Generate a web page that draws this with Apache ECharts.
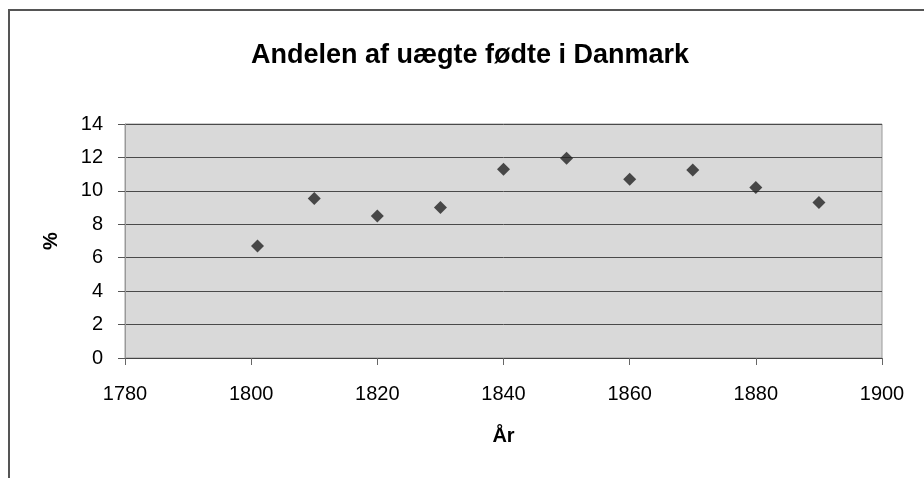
<!DOCTYPE html>
<html>
<head>
<meta charset="utf-8">
<script src="https://cdn.jsdelivr.net/npm/echarts@6/dist/echarts.min.js"></script>
<style>
  html, body { margin: 0; padding: 0; background: #fff; }
  #chart { width: 924px; height: 478px; }
</style>
</head>
<body>
<div id="chart"></div>
<script>
// census years and share of births out of wedlock (%)
const years = [1801, 1810, 1820, 1830, 1840, 1850, 1860, 1870, 1880, 1890];
const shares = [6.7, 9.55, 8.5, 9.0, 11.3, 11.95, 10.7, 11.25, 10.2, 9.3];
const xTicks = [1780, 1800, 1820, 1840, 1860, 1880, 1900];
const yTicks = [0, 2, 4, 6, 8, 10, 12, 14];

const font = '"Liberation Sans", Arial, sans-serif';
const chart = echarts.init(document.getElementById('chart'));

chart.setOption({
    animation: false,
    backgroundColor: '#fff',
    graphic: [
        {
            type: 'rect',
            shape: { x: 9, y: 10, width: 1000, height: 1000 },
            style: { fill: 'none', stroke: '#555', lineWidth: 2 },
            silent: true,
        },
    ],
    title: {
        text: 'Andelen af uægte fødte i Danmark',
        left: 246,
        top: 37,
        textStyle: { fontFamily: font, fontSize: 27, fontWeight: 'bold', color: '#000' },
    },
    grid: {
        left: 125, right: 42, top: 124, bottom: 120,
        show: true,
        backgroundColor: '#d9d9d9',
        borderColor: '#9a9a9a',
        borderWidth: 1,
    },
    xAxis: {
        type: 'value',
        min: xTicks[0],
        max: xTicks[xTicks.length - 1],
        interval: xTicks[1] - xTicks[0],
        name: 'År',
        nameLocation: 'middle',
        nameGap: 68,
        nameTextStyle: { fontFamily: font, fontSize: 20, fontWeight: 'bold', color: '#000' },
        axisLine: { show: true, lineStyle: { color: '#444', width: 1 } },
        axisTick: { show: true, length: 7, lineStyle: { color: '#666' } },
        axisLabel: { margin: 26, fontFamily: font, fontSize: 20, color: '#000', formatter: (v) => String(v) },
        splitLine: { show: false },
    },
    yAxis: {
        type: 'value',
        min: yTicks[0],
        max: yTicks[yTicks.length - 1],
        interval: yTicks[1] - yTicks[0],
        name: '%',
        nameLocation: 'middle',
        nameRotate: 90,
        nameGap: 64,
        nameTextStyle: { fontFamily: font, fontSize: 20, fontWeight: 'bold', color: '#000' },
        axisLine: { show: true, lineStyle: { color: '#999', width: 1 } },
        axisTick: { show: true, length: 7, lineStyle: { color: '#555' } },
        axisLabel: { margin: 22, fontFamily: font, fontSize: 20, color: '#000' },
        splitLine: { show: true, lineStyle: { color: '#4a4a4a', width: 1 } },
    },
    series: [
        {
            type: 'scatter',
            data: years.map((y, i) => [y, shares[i]]),
            symbol: 'diamond',
            symbolSize: 13,
            itemStyle: { color: '#222' },
        },
    ],
});
</script>
</body>
</html>
